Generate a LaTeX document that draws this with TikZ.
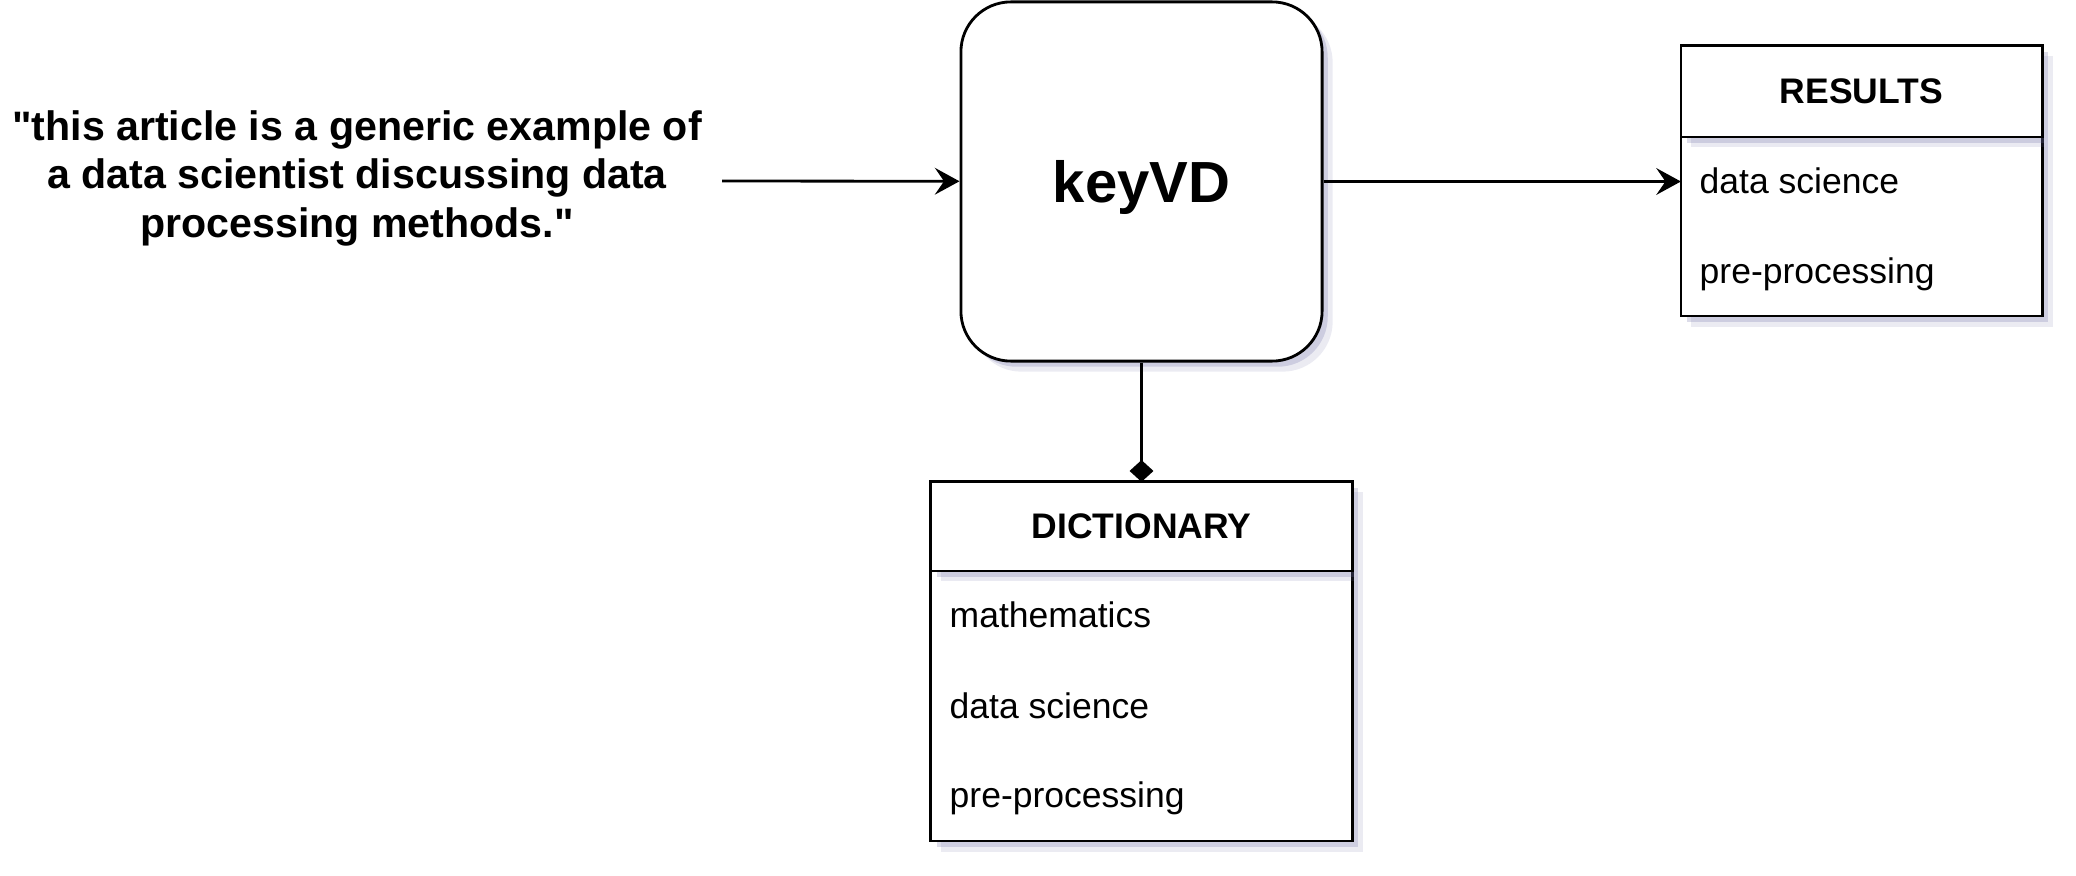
\documentclass[tikz,border=0pt]{standalone}
\usepackage{fontspec}
\setmainfont{Liberation Sans}
\usetikzlibrary{arrows.meta}
\usetikzlibrary{shadows}
\usetikzlibrary{positioning}
\definecolor{shadowc}{RGB}{110,110,165}
\tikzset{
  softshadow/.style={drop shadow={shadow xshift=3pt, shadow yshift=-3pt, fill=shadowc, opacity=.14},
                     drop shadow={shadow xshift=1.6pt, shadow yshift=-1.6pt, fill=shadowc, opacity=.24}},
  keybox/.style={draw, fill=white, line width=.8pt, rounded corners=.5cm, softshadow,
                 minimum width=3.61cm, minimum height=3.59cm, text depth=0pt,
                 font=\fontsize{16.5}{20}\selectfont\bfseries},
  headbox/.style={draw, fill=white, line width=.8pt, outer sep=0pt, softshadow,
                  font=\fontsize{10.1}{12}\selectfont\bfseries},
  bodybox/.style={draw, fill=white, line width=.8pt, outer sep=0pt, softshadow},
  item/.style={anchor=base west, inner sep=0pt, font=\fontsize{10.1}{12}\selectfont},
  arr/.style={line width=.8pt, -{Stealth[length=7pt, width=7.6pt, inset=2.6pt]}}
}
\begin{document}
\begin{tikzpicture}[x=.01cm, y=-.01cm]
\useasboundingbox (0,0) rectangle (2076,876);
% the input sentence
\node[align=center, inner sep=0pt, font=\fontsize{11.7}{13.8}\selectfont\bfseries] (quote) at (357,178)
  {\textquotedbl this article is a generic example of\\ a data scientist discussing data\\ processing methods.\textquotedbl};
\coordinate (qend) at (722,181);
% the main box
\node[keybox] (keyvd) at (1141.5,181.5) {keyVD};
% results table
\node[bodybox, minimum width=3.61cm, minimum height=1.79cm] (resbody) at (1861.5,226.5) {};
\node[headbox, minimum width=3.61cm, minimum height=.91cm, above=0pt of resbody] (reshead) {RESULTS};
\node[item] (res1) at (1699,194) {data science};
\node[item] (res2) at (1699,283) {pre-processing};
% dictionary table
\node[bodybox, minimum width=4.21cm, minimum height=2.70cm] (dictbody) at (1141.5,706) {};
\node[headbox, minimum width=4.21cm, minimum height=.89cm, above=0pt of dictbody] (dicthead) {DICTIONARY};
\node[item] (dict1) at (949,627) {mathematics};
\node[item] (dict2) at (949,718) {data science};
\node[item] (dict3) at (949,807) {pre-processing};
% connectors
\draw[arr] (qend) -- (keyvd);
\draw[arr] (keyvd.east) -- (keyvd.east -| resbody.west);
\draw[line width=.8pt, -{Diamond[length=6.2pt, width=6.8pt]}] (keyvd.south) -- (dicthead.north);
\end{tikzpicture}
\end{document}
